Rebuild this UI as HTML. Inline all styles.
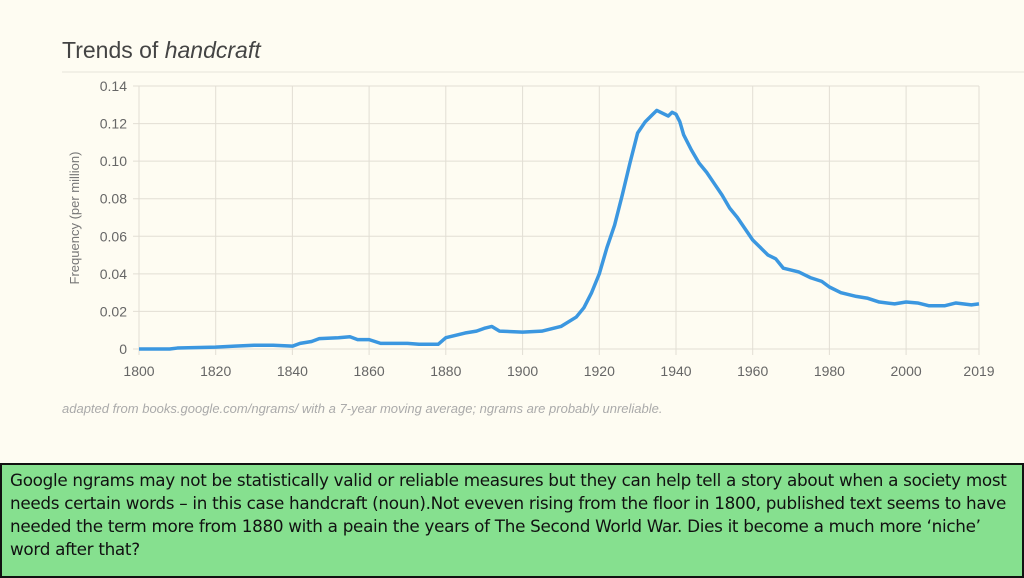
<!DOCTYPE html>
<html><head><meta charset="utf-8"><style>
body{margin:0;width:1024px;height:576px;background:#fefcf2;overflow:hidden;font-family:"Liberation Sans",sans-serif;position:relative}
.box{position:absolute;left:0;top:463px;width:1020px;height:111px;background:#86e08f;border:2px solid #111;box-sizing:content-box}
.box p{margin:4px 0 0 8px;font-size:16.8px;line-height:23px;color:#111;font-family:"DejaVu Sans","Liberation Sans",sans-serif;letter-spacing:-0.3px;white-space:nowrap}
</style></head><body>
<svg width="1024" height="470" style="position:absolute;left:0;top:0" font-family="Liberation Sans, sans-serif">
<text x="62" y="58" font-size="23" fill="#444">Trends of <tspan font-style="italic">handcraft</tspan></text>
<line x1="62" y1="72" x2="1024" y2="72" stroke="#e6e3da"/>
<g stroke="#e2ded4" stroke-width="1">
<line x1="133" y1="86" x2="979" y2="86"/><line x1="133" y1="123.6" x2="979" y2="123.6"/><line x1="133" y1="161.1" x2="979" y2="161.1"/><line x1="133" y1="198.7" x2="979" y2="198.7"/><line x1="133" y1="236.3" x2="979" y2="236.3"/><line x1="133" y1="273.9" x2="979" y2="273.9"/><line x1="133" y1="311.4" x2="979" y2="311.4"/><line x1="133" y1="349" x2="979" y2="349"/>
<line x1="139" y1="86" x2="139" y2="355"/><line x1="215.7" y1="86" x2="215.7" y2="355"/><line x1="292.4" y1="86" x2="292.4" y2="355"/><line x1="369.1" y1="86" x2="369.1" y2="355"/><line x1="445.8" y1="86" x2="445.8" y2="355"/><line x1="522.6" y1="86" x2="522.6" y2="355"/><line x1="599.3" y1="86" x2="599.3" y2="355"/><line x1="676" y1="86" x2="676" y2="355"/><line x1="752.7" y1="86" x2="752.7" y2="355"/><line x1="829.4" y1="86" x2="829.4" y2="355"/><line x1="906.1" y1="86" x2="906.1" y2="355"/><line x1="979" y1="86" x2="979" y2="355"/>
</g>
<g font-size="14" fill="#666" text-anchor="end">
<text x="127" y="91">0.14</text><text x="127" y="128.6">0.12</text><text x="127" y="166.1">0.10</text><text x="127" y="203.7">0.08</text><text x="127" y="241.3">0.06</text><text x="127" y="278.9">0.04</text><text x="127" y="316.4">0.02</text><text x="127" y="354">0</text>
</g>
<g font-size="14" fill="#666" text-anchor="middle">
<text x="139" y="376">1800</text><text x="215.7" y="376">1820</text><text x="292.4" y="376">1840</text><text x="369.1" y="376">1860</text><text x="445.8" y="376">1880</text><text x="522.6" y="376">1900</text><text x="599.3" y="376">1920</text><text x="676" y="376">1940</text><text x="752.7" y="376">1960</text><text x="829.4" y="376">1980</text><text x="906.1" y="376">2000</text><text x="979" y="376">2019</text>
</g>
<text transform="translate(79,218) rotate(-90)" font-size="13" fill="#777" text-anchor="middle">Frequency (per million)</text>
<text x="62" y="413" font-size="13" font-style="italic" fill="#aaa">adapted from books.google.com/ngrams/ with a 7-year moving average; ngrams are probably unreliable.</text>
<polyline transform="translate(139,349) scale(3.8356,-1.8786)" vector-effect="non-scaling-stroke" fill="none" stroke="#3b97e0" stroke-width="3.5" stroke-linejoin="round" points="0,0 8,0 10,0.5 20,1 25,1.5 30,2 35,2 40,1.5 42,3 45,4 47,5.5 52,6 55,6.5 57,5 60,5 63,3 70,3 73,2.5 78,2.5 80,6 85,8.5 88,9.5 90,11 92,12 94,9.5 100,9 105,9.5 110,12 114,17 116,22 118,30 120,40 122,54 124,66 126,82 128,99 130,115 132,121 134,125 135,127 137,125 138,124 139,126 140,125 141,121 142,114 144,106 146,99 148,94 150,88 152,82 154,75 156,70 158,64 160,58 162,54 164,50 166,48 168,43 172,41 175,38 178,36 180,33 183,30 187,28 190,27 193,25 197,24 200,25 203,24.5 206,23 210,23 213,24.5 217,23.5 219,24"/>
</svg>
<div class="box"><p>Google ngrams may not be statistically valid or reliable measures but they can help tell a story about when a society most<br>needs certain words – in this case handcraft (noun).Not eveven rising from the floor in 1800, published text seems to have<br>needed the term more from 1880 with a peain the years of The Second World War. Dies it become a much more ‘niche’<br>word after that?</p></div>
</body></html>
